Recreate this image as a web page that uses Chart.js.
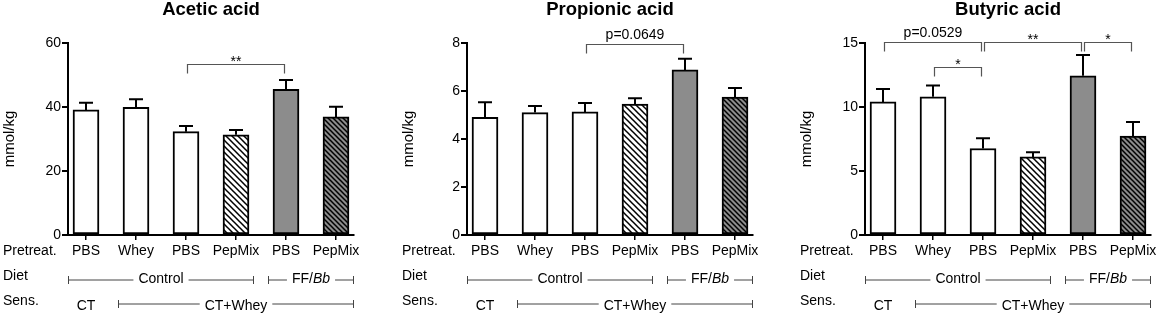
<!DOCTYPE html>
<html lang="en">
  <head>
    <meta charset="utf-8" />
    <title>Short-chain fatty acids</title>
    <style>
      * {
        margin: 0;
        padding: 0;
      }
      body {
        width: 1156px;
        height: 315px;
        overflow: hidden;
        background: #fff;
        position: relative;
      }
      .panel {
        position: absolute;
        top: 0;
      }
    </style>
  </head>
  <body>
    <canvas id="acetic" class="panel" width="385" height="315" style="left: 0px"></canvas>
    <canvas id="propionic" class="panel" width="385" height="315" style="left: 399px"></canvas>
    <canvas id="butyric" class="panel" width="385" height="315" style="left: 797px"></canvas>

    <script src="https://cdn.jsdelivr.net/npm/chart.js"></script>
    <script>
      // groups (same for all three panels)
      const pretreat = ["PBS", "Whey", "PBS", "PepMix", "PBS", "PepMix"];
      const dietGroups = [
        { parts: [{ t: "Control" }], from: 0, to: 3 },
        { parts: [{ t: "FF/" }, { t: "Bb", italic: true }], from: 4, to: 5 },
      ];
      const sensGroups = [
        { parts: [{ t: "CT" }], from: 0, to: 0 },
        { parts: [{ t: "CT+Whey" }], from: 1, to: 5 },
      ];

      // mean and SEM, mmol/kg
      const aceticMean = [39.1, 39.9, 32.3, 31.3, 45.5, 36.9];
      const aceticSem = [2.2, 2.5, 1.8, 1.5, 2.9, 3.2];
      const propionicMean = [4.9, 5.1, 5.13, 5.46, 6.88, 5.75];
      const propionicSem = [0.63, 0.28, 0.37, 0.24, 0.46, 0.37];
      const butyricMean = [10.4, 10.8, 6.76, 6.1, 12.44, 7.72];
      const butyricSem = [1.0, 0.88, 0.8, 0.37, 1.62, 1.1];

      // significance brackets: bar index from/to, level in mmol/kg
      const aceticSig = [{ from: 2, to: 4, level: 53.4, text: "**" }];
      const propionicSig = [{ from: 2, to: 4, level: 7.96, text: "p=0.0649" }];
      const butyricSig = [
        { from: 0, to: 2, level: 15.05, text: "p=0.0529" },
        { from: 1, to: 2, level: 13.1, text: "*" },
        { from: 2, to: 4, level: 15.05, text: "**" },
        { from: 4, to: 5, level: 15.05, text: "*" },
      ];

      const FONT = '"Liberation Sans", Arial, sans-serif';
      const EDGE = 0.36; // axis runs this far past the outer bars

      function hatch(bg, step) {
        const c = document.createElement("canvas");
        c.width = step;
        c.height = step;
        const g = c.getContext("2d");
        g.fillStyle = bg;
        g.fillRect(0, 0, step, step);
        g.strokeStyle = "#000";
        g.lineWidth = 1.5;
        g.beginPath();
        g.moveTo(-1, -1);
        g.lineTo(step + 1, step + 1);
        g.moveTo(step - 1, -1);
        g.lineTo(step + 1, 1);
        g.moveTo(-1, step - 1);
        g.lineTo(1, step + 1);
        g.stroke();
        return g.createPattern(c, "repeat");
      }

      const fills = ["#fff", "#fff", "#fff", hatch("#fff", 6), "#8c8c8c", hatch("#8c8c8c", 5)];

      function drawParts(ctx, parts, cx, y) {
        const widths = parts.map((p) => {
          ctx.font = (p.italic ? "italic " : "") + "14px " + FONT;
          return ctx.measureText(p.t).width;
        });
        const total = widths.reduce((a, b) => a + b, 0);
        let x = cx - total / 2;
        ctx.textAlign = "left";
        parts.forEach((p, i) => {
          ctx.font = (p.italic ? "italic " : "") + "14px " + FONT;
          ctx.fillText(p.t, x, y);
          x += widths[i];
        });
        return total;
      }

      function drawRow(ctx, x, label, groups, labelY, textY, lineY) {
        ctx.fillStyle = "#000";
        ctx.font = "14px " + FONT;
        ctx.textAlign = "left";
        ctx.fillText(label, 3, labelY);
        groups.forEach((g) => {
          const x0 = x.getPixelForValue(g.from - EDGE);
          const x1 = x.getPixelForValue(g.to + EDGE);
          const cx = g.from === g.to ? x.getPixelForValue(g.from) : (x0 + x1) / 2;
          const w = drawParts(ctx, g.parts, cx, textY);
          if (g.from === g.to) return;
          ctx.strokeStyle = "#444";
          ctx.lineWidth = 1;
          ctx.beginPath();
          ctx.moveTo(x0, lineY);
          ctx.lineTo(cx - w / 2 - 5, lineY);
          ctx.moveTo(cx + w / 2 + 5, lineY);
          ctx.lineTo(x1, lineY);
          ctx.moveTo(x0 + 0.5, lineY - 4);
          ctx.lineTo(x0 + 0.5, lineY + 4);
          ctx.moveTo(x1 - 0.5, lineY - 4);
          ctx.lineTo(x1 - 0.5, lineY + 4);
          ctx.stroke();
        });
      }

      const decor = {
        id: "decor",
        afterDatasetsDraw(chart, args, opts) {
          const {
            ctx,
            chartArea: a,
            scales: { x, y },
          } = chart;
          const ds = chart.data.datasets[0];
          ctx.save();

          // error bars, upper half only
          chart.getDatasetMeta(0).data.forEach((bar, i) => {
            const top = y.getPixelForValue(ds.data[i].y + opts.sem[i]);
            ctx.strokeStyle = "#000";
            ctx.lineWidth = 2;
            ctx.beginPath();
            ctx.moveTo(bar.x, bar.y);
            ctx.lineTo(bar.x, top);
            ctx.moveTo(bar.x - 7, top);
            ctx.lineTo(bar.x + 7, top);
            ctx.stroke();
          });

          // title
          ctx.fillStyle = "#000";
          ctx.font = "bold 18.5px " + FONT;
          ctx.textAlign = "center";
          ctx.textBaseline = "alphabetic";
          ctx.fillText(opts.title, (a.left + a.right) / 2, 15);

          // y title
          ctx.save();
          ctx.translate(10, (a.top + a.bottom) / 2);
          ctx.rotate(-Math.PI / 2);
          ctx.font = "15px " + FONT;
          ctx.textBaseline = "middle";
          ctx.fillText("mmol/kg", 0, 0);
          ctx.restore();

          // significance brackets
          opts.sig.forEach((s) => {
            const x0 = x.getPixelForValue(s.from) + 1.5;
            const x1 = x.getPixelForValue(s.to) - 1.5;
            const yl = Math.round(y.getPixelForValue(s.level)) + 0.5;
            ctx.strokeStyle = "#555";
            ctx.lineWidth = 1.2;
            ctx.beginPath();
            ctx.moveTo(x0, yl + 9);
            ctx.lineTo(x0, yl);
            ctx.lineTo(x1, yl);
            ctx.lineTo(x1, yl + 9);
            ctx.stroke();
            ctx.fillStyle = "#000";
            ctx.font = "14px " + FONT;
            ctx.textAlign = "center";
            const star = s.text.startsWith("*");
            ctx.fillText(s.text, (x0 + x1) / 2, star ? yl + 1 : yl - 6);
          });

          // row labels under the axis
          ctx.fillStyle = "#000";
          ctx.font = "14px " + FONT;
          ctx.textAlign = "left";
          ctx.fillText("Pretreat.", 3, 255);
          drawRow(ctx, x, "Diet", dietGroups, 280, 283, 280);
          drawRow(ctx, x, "Sens.", sensGroups, 305, 310, 304);

          ctx.restore();
        },
      };

      function makeChart(id, title, mean, sem, yMax, yStep, sig) {
        return new Chart(document.getElementById(id), {
          type: "bar",
          data: {
            datasets: [
              {
                data: mean.map((v, i) => ({ x: i, y: v })),
                backgroundColor: fills,
                borderColor: "#000",
                borderWidth: 2,
                borderSkipped: false,
                barThickness: 26,
              },
            ],
          },
          options: {
            responsive: false,
            animation: false,
            layout: { padding: { top: 43, right: 31, left: 0, bottom: 0 } },
            plugins: {
              legend: { display: false },
              tooltip: { enabled: false },
              decor: { title: title, sem: sem, sig: sig },
            },
            scales: {
              x: {
                type: "linear",
                offset: false,
                bounds: "data",
                min: -EDGE,
                max: pretreat.length - 1 + EDGE,
                afterBuildTicks: (s) => {
                  s.ticks = pretreat.map((p, i) => ({ value: i }));
                },
                afterFit: (s) => {
                  s.height = 80;
                },
                grid: {
                  offset: false,
                  drawOnChartArea: false,
                  drawTicks: true,
                  tickLength: 5,
                  color: "#000",
                  lineWidth: 1.5,
                },
                border: { color: "#000", width: 2 },
                ticks: {
                  callback: (v) => pretreat[v],
                  color: "#000",
                  padding: 3,
                  maxRotation: 0,
                  autoSkip: false,
                  font: { family: FONT, size: 14 },
                },
              },
              y: {
                min: 0,
                max: yMax,
                afterFit: (s) => {
                  s.width = 68;
                },
                grid: {
                  drawOnChartArea: false,
                  tickLength: 6,
                  color: "#000",
                  lineWidth: 2,
                },
                border: { color: "#000", width: 2 },
                ticks: {
                  stepSize: yStep,
                  color: "#000",
                  padding: 1,
                  font: { family: FONT, size: 14 },
                },
              },
            },
          },
          plugins: [decor],
        });
      }

      makeChart("acetic", "Acetic acid", aceticMean, aceticSem, 60, 20, aceticSig);
      makeChart("propionic", "Propionic acid", propionicMean, propionicSem, 8, 2, propionicSig);
      makeChart("butyric", "Butyric acid", butyricMean, butyricSem, 15, 5, butyricSig);
    </script>
  </body>
</html>
